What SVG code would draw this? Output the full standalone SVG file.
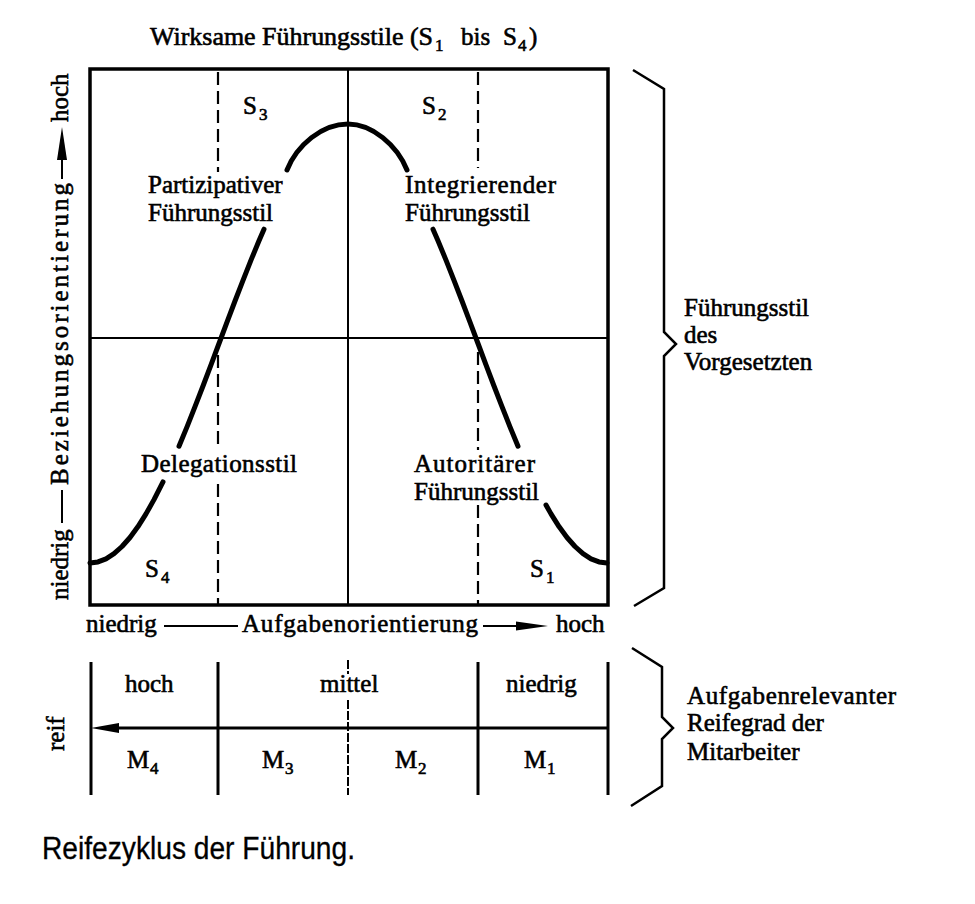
<svg xmlns="http://www.w3.org/2000/svg" width="975" height="904" viewBox="0 0 975 904">
<style>
text{font-family:"Liberation Serif","DejaVu Serif",serif;font-size:25px;fill:#000;stroke:#000;stroke-width:0.6px}
.sub{font-size:17px}
.cap{font-family:"Liberation Sans",Arial,sans-serif;font-size:31px;stroke:#000;stroke-width:0.3px}
.frame{fill:none;stroke:#000;stroke-width:3.5}
.axis{fill:none;stroke:#000;stroke-width:2}
.dash{fill:none;stroke:#000;stroke-width:2.2;stroke-dasharray:13 6}
.fine{fill:none;stroke:#000;stroke-width:2;stroke-dasharray:9 2}
.curve{fill:none;stroke:#000;stroke-width:5;stroke-linecap:round;stroke-linejoin:round}
.vline{fill:none;stroke:#000;stroke-width:3}
.brace{fill:none;stroke:#000;stroke-width:2.5;stroke-linejoin:miter}
.head{fill:#000;stroke:none}
</style>
<rect width="975" height="904" fill="#fff"/>

<g id="title">
<text x="150" y="45" textLength="283" lengthAdjust="spacingAndGlyphs">Wirksame Führungsstile (S</text>
<text class="sub" x="435" y="51">1</text>
<text x="461" y="45">bis</text>
<text x="503" y="45">S</text>
<text class="sub" x="518" y="51">4</text>
<text x="529" y="45">)</text>
</g>

<g id="grid">
<rect class="frame" x="90" y="69" width="518" height="536"/>
<line class="axis" x1="90" y1="338" x2="608" y2="338"/>
<line class="axis" x1="348" y1="69" x2="348" y2="605"/>
<path class="dash" d="M218,72 V172 M218,355 V448 M218,484 V604"/>
<path class="dash" d="M478,72 V168 M478,352 V450 M478,505 V604"/>
</g>

<g id="curve">
<path class="curve" d="M90,563 L98,561.9 L106,558.8 L114,553.7 L122,546.5 L130,537.5 L138,526.6 L146,513.9 L154,499.6 L163,481.9"/>
<path class="curve" d="M179,446.2 L187,426.9 L195,406.7 L203,386 L211,364.8 L219,343.5 L227,322.2 L235,301 L243,280.3 L251,260.1 L259,240.8 L264,229.2"/>
<path class="curve" d="M287,170 C297,145 322,124 348,124 C372,124 397,145 407,170"/>
<path class="curve" d="M433,229.2 L438,240.8 L446,260.1 L454,280.3 L462,301 L470,322.2 L478,343.5 L486,364.8 L494,386 L502,406.7 L510,426.9 L518,446.2"/>
<path class="curve" d="M546,505 L551,513.9 L559,526.6 L567,537.5 L575,546.5 L583,553.7 L591,558.8 L599,561.9 L607,563"/>
</g>

<g id="s3"><text x="243" y="114">S</text><text class="sub" x="259" y="120">3</text></g>
<g id="s2"><text x="422" y="114">S</text><text class="sub" x="438" y="120">2</text></g>
<g id="s4"><text x="145" y="577">S</text><text class="sub" x="161" y="583">4</text></g>
<g id="s1"><text x="530" y="577">S</text><text class="sub" x="546" y="583">1</text></g>

<g id="partizipativ"><text x="148" y="193">Partizipativer</text><text x="148" y="221">Führungsstil</text></g>
<g id="integrierend"><text x="405" y="193" textLength="151">Integrierender</text><text x="405" y="221">Führungsstil</text></g>
<g id="delegation"><text x="141" y="472" textLength="156">Delegationsstil</text></g>
<g id="autoritaer"><text x="414" y="472" textLength="121">Autoritärer</text><text x="414" y="500">Führungsstil</text></g>

<g id="y-axis">
<text transform="translate(68,600) rotate(-90)">niedrig</text>
<line class="axis" x1="62" y1="523" x2="62" y2="490"/>
<text transform="translate(68,485) rotate(-90)" textLength="302">Beziehungsorientierung</text>
<line class="axis" x1="62" y1="179" x2="62" y2="155"/>
<polygon class="head" points="62,127 57,160 67,160"/>
<text transform="translate(68,122) rotate(-90)">hoch</text>
</g>

<g id="x-axis">
<text x="86" y="632">niedrig</text>
<line class="axis" x1="164" y1="626" x2="238" y2="626"/>
<text x="242" y="632" textLength="236">Aufgabenorientierung</text>
<line class="axis" x1="483" y1="626" x2="520" y2="626"/>
<polygon class="head" points="516,621.5 548,626 516,630.5"/>
<text x="556" y="632">hoch</text>
</g>

<g id="reifegrad">
<line class="vline" x1="91" y1="662" x2="91" y2="795"/>
<line class="vline" x1="218" y1="662" x2="218" y2="795"/>
<path class="fine" d="M348,660 V674 M348,700 V795"/>
<line class="vline" x1="478" y1="662" x2="478" y2="795"/>
<line class="vline" x1="608" y1="662" x2="608" y2="795"/>
<line class="vline" x1="608" y1="728" x2="112" y2="728"/>
<polygon class="head" points="91,728 119,723 119,733"/>
<text x="125" y="692">hoch</text>
<text x="320" y="692">mittel</text>
<text x="506" y="692">niedrig</text>
<text x="127" y="768">M</text><text class="sub" x="150" y="774">4</text>
<text x="262" y="768">M</text><text class="sub" x="285" y="774">3</text>
<text x="395" y="768">M</text><text class="sub" x="418" y="774">2</text>
<text x="524" y="768">M</text><text class="sub" x="547" y="774">1</text>
<text transform="translate(64,751) rotate(-90)">reif</text>
</g>

<g id="brace-style">
<polyline class="brace" points="633,70 664,89 664,332 676,344 664,356 664,588 634,606"/>
<text x="684" y="316">Führungsstil</text>
<text x="684" y="343">des</text>
<text x="684" y="370">Vorgesetzten</text>
</g>

<g id="brace-reife">
<polyline class="brace" points="632,648 662,667 662,717 673,728 662,739 662,786 631,806"/>
<text x="687" y="704" textLength="209">Aufgabenrelevanter</text>
<text x="687" y="731">Reifegrad der</text>
<text x="687" y="760">Mitarbeiter</text>
</g>

<g id="caption">
<text class="cap" x="42" y="859" textLength="313" lengthAdjust="spacingAndGlyphs">Reifezyklus der Führung.</text>
</g>
</svg>
